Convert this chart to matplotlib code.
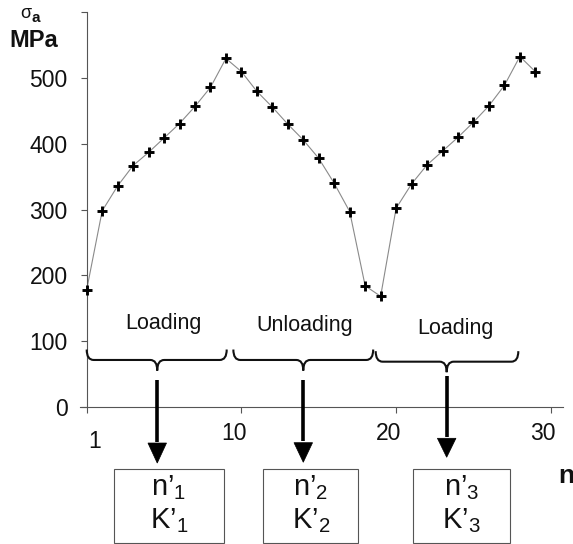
import matplotlib
matplotlib.use("Agg")
import matplotlib.pyplot as plt
from matplotlib.path import Path
from matplotlib.patches import PathPatch, Polygon, Rectangle

plt.rcParams['font.family'] = ['Liberation Sans', 'DejaVu Sans']
plt.rcParams['mathtext.fontset'] = 'custom'
plt.rcParams['mathtext.rm'] = 'Liberation Sans'

# data
reversal = list(range(30))
stress_amp = [178, 298, 336, 367, 387, 409, 431, 457, 486, 530,
              510, 480, 456, 430, 406, 378, 340, 297, 184, 168,
              302, 339, 368, 389, 410, 433, 458, 489, 533, 510]
y_ticks = [0, 100, 200, 300, 400, 500, 600]
y_ticklabels = ['0', '100', '200', '300', '400', '500', '']
x_ticks = [0, 10, 20, 30]
x_ticklabels = ['1', '10', '20', '30']
stage_names = ['Loading', 'Unloading', 'Loading']
box_index = ['1', '2', '3']

AX_COL = '#555555'
TXT = '#111111'

fig = plt.figure(figsize=(5.73, 5.44), dpi=100)
ax = fig.add_axes([0, 0, 1, 1])
ax.set_xlim(-5.604, 31.435)
ax.set_ylim(-209.0, 619.0)
ax.patch.set_visible(False)

ax.plot(reversal, stress_amp, color='#8a8a8a', lw=0.8, zorder=2)
ax.plot(reversal, stress_amp, ls='none', marker='+', ms=6.8, mew=2.1,
        color='black', zorder=3)

# axes through the origin
for s in ['top', 'right']:
    ax.spines[s].set_visible(False)
ax.spines['left'].set_position(('data', 0))
ax.spines['bottom'].set_position(('data', 0))
ax.spines['left'].set_bounds(0, 600)
ax.spines['bottom'].set_bounds(-0.43, 30.8)
for s in ['left', 'bottom']:
    ax.spines[s].set_color(AX_COL)
    ax.spines[s].set_linewidth(0.8)

ax.set_yticks(y_ticks)
ax.set_yticklabels(y_ticklabels)
ax.set_xticks(x_ticks)
ax.set_xticklabels([])
ax.tick_params(axis='both', direction='out', length=4.3, width=0.8,
               color=AX_COL, labelsize=16.5, labelcolor=TXT)
ax.tick_params(axis='y', pad=9.5)

# x tick labels sit a little off the ticks, as in the original
x_lab_off = [0.5, -0.5, -0.5, -0.5]
x_lab_y = [-63.3, -51.4, -51.4, -51.4]
for t, lab, dx, yy in zip(x_ticks, x_ticklabels, x_lab_off, x_lab_y):
    ax.text(t + dx, yy, lab, ha='center', va='baseline', fontsize=16.5,
            color=TXT)

# axis titles
ax.text(-4.3, 591, 'σ', fontsize=13, va='baseline', ha='left', color=TXT)
ax.text(-3.55, 586, 'a', fontsize=11, fontweight='bold', va='baseline',
        ha='left', color=TXT)
ax.text(-4.98, 548, 'MPa', fontsize=17, fontweight='bold', va='baseline',
        ha='left', color=TXT)
ax.text(30.45, -116.6, 'n', fontsize=19, fontweight='bold', va='baseline',
        ha='left', color=TXT)


def brace(x0, x1, xm, y_end, y_line, y_tip, d=0.45):
    verts = [(x0, y_end), (x0, y_line), (x0 + d, y_line),
             (xm - d, y_line), (xm, y_line), (xm, y_tip),
             (xm, y_line), (xm + d, y_line),
             (x1 - d, y_line), (x1, y_line), (x1, y_end)]
    codes = [Path.MOVETO, Path.CURVE3, Path.CURVE3,
             Path.LINETO, Path.CURVE3, Path.CURVE3,
             Path.CURVE3, Path.CURVE3,
             Path.LINETO, Path.CURVE3, Path.CURVE3]
    ax.add_patch(PathPatch(Path(verts, codes), fill=False, lw=1.5,
                           edgecolor=TXT, zorder=4))


brace_geo = [(0.0, 9.05, 4.56, 87.0, 71.1, 55.0),
             (9.48, 18.52, 14.0, 87.0, 71.1, 55.0),
             (18.68, 27.9, 23.27, 84.5, 68.5, 52.5)]
label_pos = [(4.99, 118.3), (14.07, 115.2), (23.85, 110.7)]
arrow_geo = [(40.6, -55.3, -85.8), (40.0, -54.8, -84.6), (46.7, -48.1, -77.0)]
box_geo = [(1.77, 8.86), (11.42, 17.56), (21.07, 27.36)]
box_y0, box_y1 = -207.9, -94.9

for i in range(3):
    x0, x1, xm, ye, yl, yt = brace_geo[i]
    brace(x0, x1, xm, ye, yl, yt)
    lx, ly = label_pos[i]
    ax.text(lx, ly, stage_names[i], ha='center', va='baseline',
            fontsize=15.5, color=TXT)
    ys, yb, ytip = arrow_geo[i]
    ax.plot([xm, xm], [ys, yb + 2], color='black', lw=2.6,
            solid_capstyle='butt', zorder=4)
    ax.add_patch(Polygon([(xm - 0.6, yb), (xm + 0.6, yb), (xm, ytip)],
                         closed=True, facecolor='black', edgecolor='black',
                         lw=0.5, zorder=4))
    bx0, bx1 = box_geo[i]
    ax.add_patch(Rectangle((bx0, box_y0), bx1 - bx0, box_y1 - box_y0,
                           fill=False, edgecolor='#555555', lw=0.8, zorder=4))
    cx = (bx0 + bx1) / 2
    k = box_index[i]
    ax.text(cx, -134.4, 'n’$_{\\mathregular{%s}}$' % k, ha='center',
            va='baseline', fontsize=21, color=TXT)
    ax.text(cx, -185.1, 'K’$_{\\mathregular{%s}}$' % k, ha='center',
            va='baseline', fontsize=21, color=TXT)

fig.savefig('out.png', dpi=100, facecolor='white')
